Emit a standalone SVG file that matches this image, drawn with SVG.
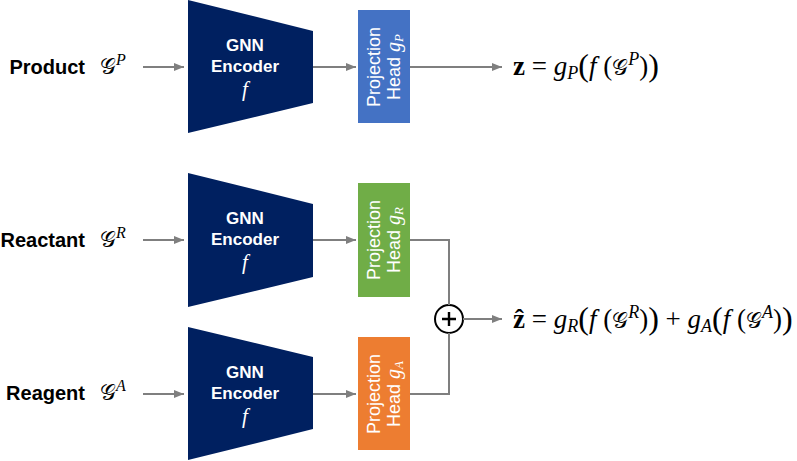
<svg xmlns="http://www.w3.org/2000/svg" width="797" height="461" viewBox="0 0 797 461">
<defs>
<marker id="ah" viewBox="0 0 10 8" refX="10" refY="4" markerWidth="10" markerHeight="8" markerUnits="userSpaceOnUse" orient="auto">
<path d="M0,0 L10,4 L0,8 Z" fill="#7F7F7F"/>
</marker>
<style>
.lbl{font-family:"Liberation Sans",Arial,sans-serif;font-weight:bold;font-size:20px;fill:#000}
.enc{fill:#002060}
.enct{font-family:"Liberation Sans",Arial,sans-serif;font-weight:bold;font-size:17px;fill:#fff;text-anchor:middle}
.f{font-family:"Liberation Serif","Times New Roman",serif;font-style:italic;font-size:21px;fill:#fff;text-anchor:middle}
.pt{font-family:"Liberation Sans",Arial,sans-serif;font-size:18px;fill:#fff;text-anchor:middle}
.it{font-family:"Liberation Serif",serif;font-style:italic}
.m{font-family:"Liberation Serif","DejaVu Serif",serif;font-size:27px;fill:#000}
.g{font-family:"DejaVu Serif","DejaVu Sans","Liberation Serif",serif;font-size:22px;fill:#000}
.con{fill:none;stroke:#7F7F7F;stroke-width:2}
</style>
</defs>

<g id="product">
<text class="lbl" x="85" y="74" text-anchor="end">Product</text>
<text class="g" x="100" y="74">𝒢<tspan class="it" font-size="16" dy="-9">P</tspan></text>
</g>
<g id="reactant">
<text class="lbl" x="85" y="247" text-anchor="end">Reactant</text>
<text class="g" x="100" y="247">𝒢<tspan class="it" font-size="16" dy="-9">R</tspan></text>
</g>
<g id="reagent">
<text class="lbl" x="85" y="400" text-anchor="end">Reagent</text>
<text class="g" x="100" y="400">𝒢<tspan class="it" font-size="16" dy="-9">A</tspan></text>
</g>

<g id="encoder-p">
<polygon class="enc" points="188,0 313,31 313,103 188,133"/>
<text class="enct" x="245" y="51">GNN</text>
<text class="enct" x="245" y="72">Encoder</text>
<text class="f" x="245" y="96">f</text>
</g>
<g id="encoder-r">
<polygon class="enc" points="188,173 313,204 313,277 188,307"/>
<text class="enct" x="245" y="224">GNN</text>
<text class="enct" x="245" y="245">Encoder</text>
<text class="f" x="245" y="269">f</text>
</g>
<g id="encoder-a">
<polygon class="enc" points="188,327 313,357 313,429 188,460"/>
<text class="enct" x="245" y="378">GNN</text>
<text class="enct" x="245" y="399">Encoder</text>
<text class="f" x="245" y="423">f</text>
</g>

<g id="head-p">
<rect x="358" y="10" width="52" height="113" fill="#4472C4"/>
<text class="pt" transform="translate(380,67) rotate(-90)">Projection</text>
<text class="pt" transform="translate(400,67) rotate(-90)">Head <tspan class="it" font-size="20">g</tspan><tspan class="it" font-size="13" dy="3">P</tspan></text>
</g>
<g id="head-r">
<rect x="358" y="183" width="52" height="114" fill="#70AD47"/>
<text class="pt" transform="translate(380,240) rotate(-90)">Projection</text>
<text class="pt" transform="translate(400,240) rotate(-90)">Head <tspan class="it" font-size="20">g</tspan><tspan class="it" font-size="13" dy="3">R</tspan></text>
</g>
<g id="head-a">
<rect x="358" y="337" width="52" height="113" fill="#ED7D31"/>
<text class="pt" transform="translate(380,394) rotate(-90)">Projection</text>
<text class="pt" transform="translate(400,394) rotate(-90)">Head <tspan class="it" font-size="20">g</tspan><tspan class="it" font-size="13" dy="3">A</tspan></text>
</g>

<g id="sum">
<circle cx="449" cy="319" r="14" fill="#fff" stroke="#000" stroke-width="2"/>
<path d="M442,319 H456 M449,312 V326" stroke="#000" stroke-width="2.4" fill="none"/>
</g>

<g id="out-p">
<text class="m" x="513" y="75"><tspan font-weight="bold">z</tspan><tspan> = </tspan><tspan class="it">g</tspan><tspan class="it" font-size="18" dy="4">P</tspan><tspan font-size="32" dy="-3">(</tspan><tspan class="it" dy="-1">f</tspan><tspan> (</tspan><tspan class="g" font-size="25">𝒢</tspan><tspan class="it" font-size="18" dy="-10">P</tspan><tspan dy="10">)</tspan><tspan font-size="32" dy="1">)</tspan></text>
</g>
<g id="out-ra">
<text class="m" x="513" y="328"><tspan font-weight="bold">ẑ</tspan><tspan> = </tspan><tspan class="it">g</tspan><tspan class="it" font-size="18" dy="4">R</tspan><tspan font-size="32" dy="-3">(</tspan><tspan class="it" dy="-1">f</tspan><tspan> (</tspan><tspan class="g" font-size="25">𝒢</tspan><tspan class="it" font-size="18" dy="-10">R</tspan><tspan dy="10">)</tspan><tspan font-size="32" dy="1">)</tspan><tspan dy="-1"> + </tspan><tspan class="it">g</tspan><tspan class="it" font-size="18" dy="4">A</tspan><tspan font-size="32" dy="-3">(</tspan><tspan class="it" dy="-1">f</tspan><tspan> (</tspan><tspan class="g" font-size="25">𝒢</tspan><tspan class="it" font-size="18" dy="-10">A</tspan><tspan dy="10">)</tspan><tspan font-size="32" dy="1">)</tspan></text>
</g>

<g id="connectors">
<line class="con" x1="143" y1="67" x2="184" y2="67" marker-end="url(#ah)"/>
<line class="con" x1="313" y1="67" x2="356" y2="67" marker-end="url(#ah)"/>
<line class="con" x1="410" y1="67" x2="502" y2="67" marker-end="url(#ah)"/>
<line class="con" x1="143" y1="240" x2="184" y2="240" marker-end="url(#ah)"/>
<line class="con" x1="313" y1="240" x2="356" y2="240" marker-end="url(#ah)"/>
<polyline class="con" points="410,240 449,240 449,305"/>
<line class="con" x1="143" y1="394" x2="184" y2="394" marker-end="url(#ah)"/>
<line class="con" x1="313" y1="394" x2="356" y2="394" marker-end="url(#ah)"/>
<polyline class="con" points="410,394 449,394 449,333"/>
<line class="con" x1="463" y1="319" x2="502" y2="319" marker-end="url(#ah)"/>
</g>
</svg>
